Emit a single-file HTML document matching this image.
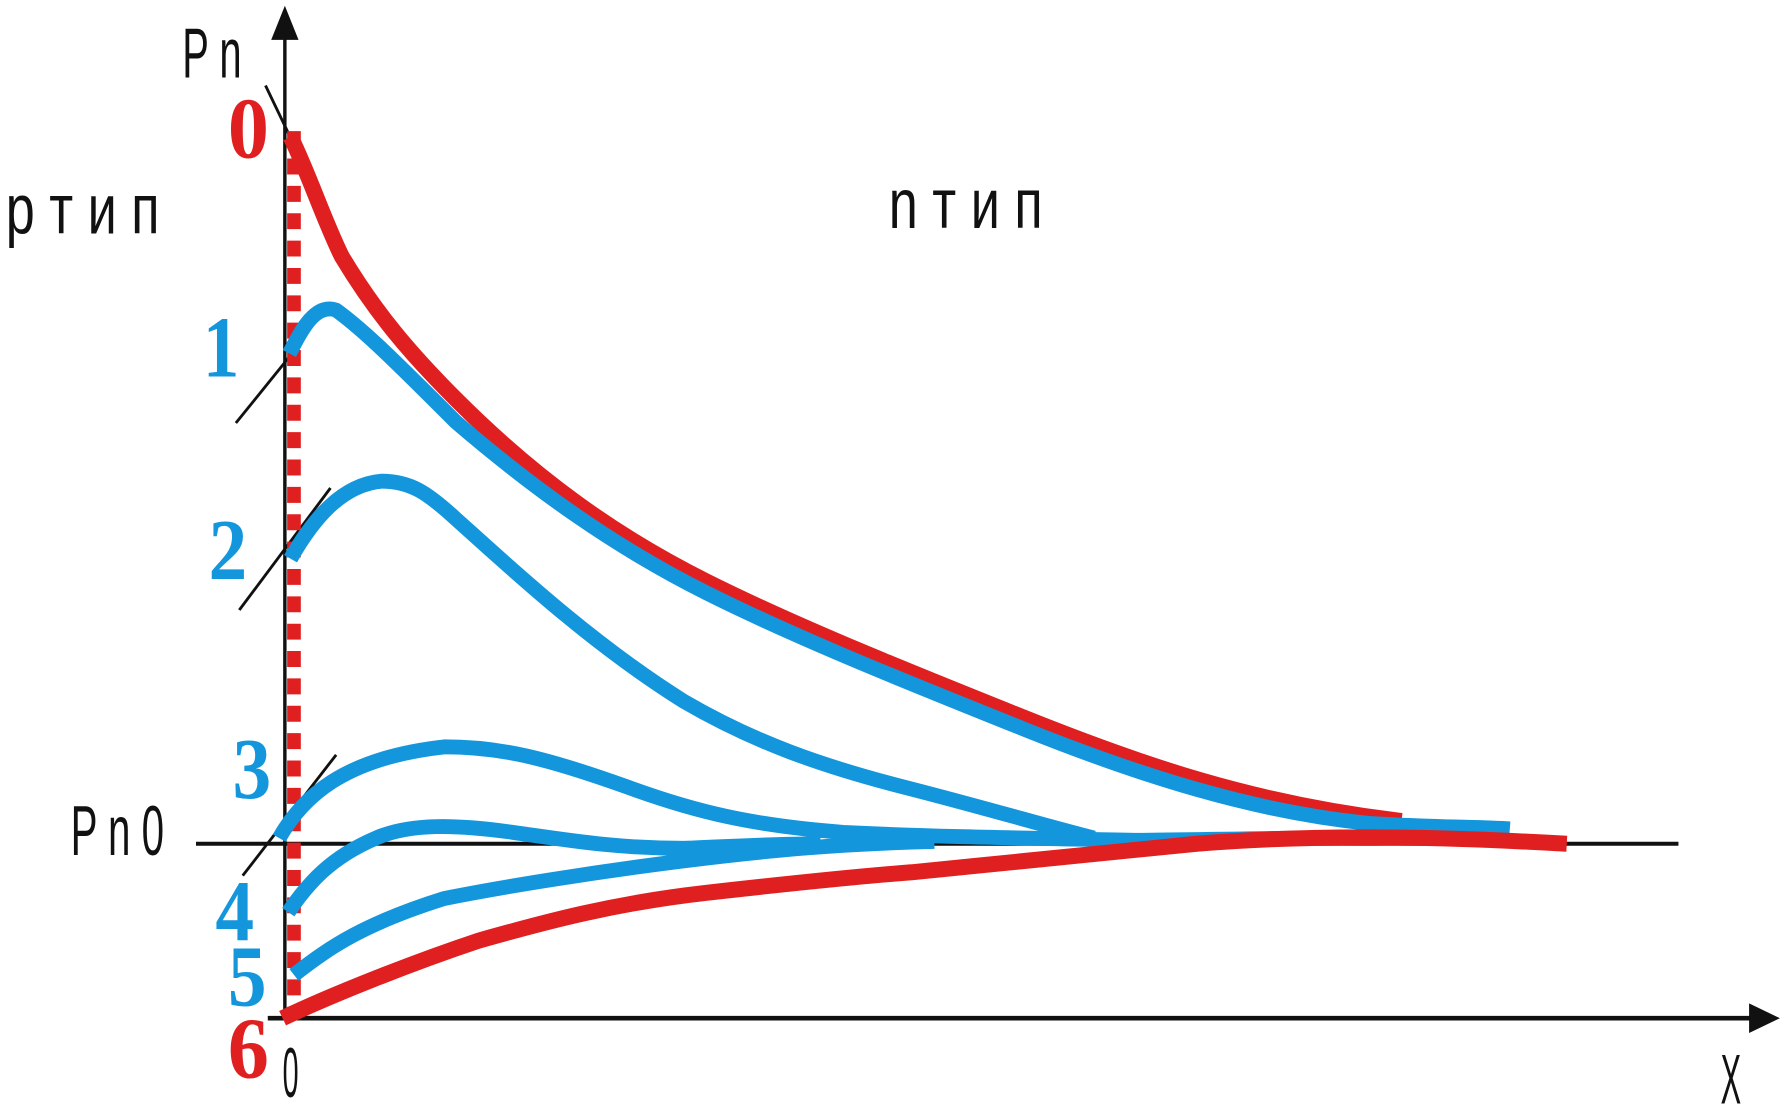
<!DOCTYPE html>
<html><head><meta charset="utf-8"><style>html,body{margin:0;padding:0;background:#fff;overflow:hidden}</style></head>
<body>
<svg width="1781" height="1106" viewBox="0 0 1563 970" preserveAspectRatio="none" xmlns="http://www.w3.org/2000/svg">
<g fill="none" stroke-linecap="butt" stroke-linejoin="round">
<line x1="250" y1="25" x2="250" y2="895" stroke="#111" stroke-width="3"/>
<polygon points="250,5 238,35 262,35" fill="#111"/>
<line x1="235" y1="893" x2="1545" y2="893" stroke="#111" stroke-width="4"/>
<polygon points="1562,893 1535,880 1535,906" fill="#111"/>
<line x1="172" y1="740" x2="1473" y2="740" stroke="#111" stroke-width="3.5"/>
<line x1="233" y1="75" x2="305" y2="225" stroke="#111" stroke-width="2.5"/>
<line x1="207" y1="371" x2="262" y2="303" stroke="#111" stroke-width="2.5"/>
<line x1="210" y1="535" x2="290" y2="428" stroke="#111" stroke-width="2.5"/>
<line x1="213" y1="768" x2="295" y2="662" stroke="#111" stroke-width="2.5"/>
<line x1="258" y1="115" x2="258" y2="892" stroke="#e02020" stroke-width="12" stroke-dasharray="14,10"/>
<path d="M255,120 C270,150 285,195 300,225 C330,275 360,310 400,350 C470,420 540,470 620,510 C700,550 800,590 900,630 C1000,670 1100,705 1230,720" stroke="#e02020" stroke-width="14"/>
<path d="M254,310 C262,295 275,265 295,272 C320,290 350,320 400,370 C470,430 540,480 620,520 C700,560 800,600 900,640 C1000,680 1100,712 1200,722 C1260,726 1300,725 1325,727" stroke="#1496dc" stroke-width="13"/>
<path d="M255,490 C275,455 300,425 335,422 C360,422 375,432 400,455 C450,500 520,565 600,615 C660,650 720,672 800,692 C870,710 920,725 960,735" stroke="#1496dc" stroke-width="13"/>
<path d="M245,735 C265,700 300,665 390,655 C440,655 480,665 550,690 C610,712 660,724 740,730 C820,734 900,735 1000,737 C1150,735 1250,733 1300,735" stroke="#1496dc" stroke-width="13"/>
<path d="M253,800 C270,775 290,752 330,735 C360,722 400,723 450,730 C500,737 540,744 600,744 C650,742 680,740 720,740" stroke="#1496dc" stroke-width="13"/>
<path d="M258,855 C290,830 320,810 390,788 C440,778 520,765 600,755 C680,745 740,740 820,738" stroke="#1496dc" stroke-width="13"/>
<path d="M248,893 C290,873 360,845 420,825 C480,808 540,792 620,783 C700,774 760,768 800,765 C880,757 950,750 1050,740 C1150,732 1250,733 1375,740" stroke="#e02020" stroke-width="14"/>
</g>
<g font-family="'Liberation Serif', serif" font-weight="bold" font-size="76">
<text x="200" y="138" fill="#e02020" textLength="36" lengthAdjust="spacingAndGlyphs">0</text>
<text x="178" y="330" fill="#1496dc" textLength="32" lengthAdjust="spacingAndGlyphs">1</text>
<text x="183" y="508" fill="#1496dc" textLength="34" lengthAdjust="spacingAndGlyphs">2</text>
<text x="204" y="700" fill="#1496dc" textLength="34" lengthAdjust="spacingAndGlyphs">3</text>
<text x="189" y="825" fill="#1496dc" textLength="34" lengthAdjust="spacingAndGlyphs">4</text>
<text x="200" y="882" fill="#1496dc" textLength="34" lengthAdjust="spacingAndGlyphs">5</text>
<text x="200" y="945" fill="#e02020" textLength="36" lengthAdjust="spacingAndGlyphs">6</text>
</g>
<g font-family="'Liberation Sans Narrow','Liberation Sans', sans-serif" font-size="62" fill="#111">
<text x="160" y="68" textLength="52" lengthAdjust="spacingAndGlyphs">P  n</text>
<text x="5" y="205" textLength="135" lengthAdjust="spacingAndGlyphs">p   т и п</text>
<text x="780" y="200" textLength="135" lengthAdjust="spacingAndGlyphs">n   т и п</text>
<text x="62" y="750" textLength="82" lengthAdjust="spacingAndGlyphs">P n 0</text>
<text x="248" y="962" textLength="14" lengthAdjust="spacingAndGlyphs">0</text>
<text x="1510" y="968" textLength="18" lengthAdjust="spacingAndGlyphs">X</text>
</g>
</svg>
</body></html>
